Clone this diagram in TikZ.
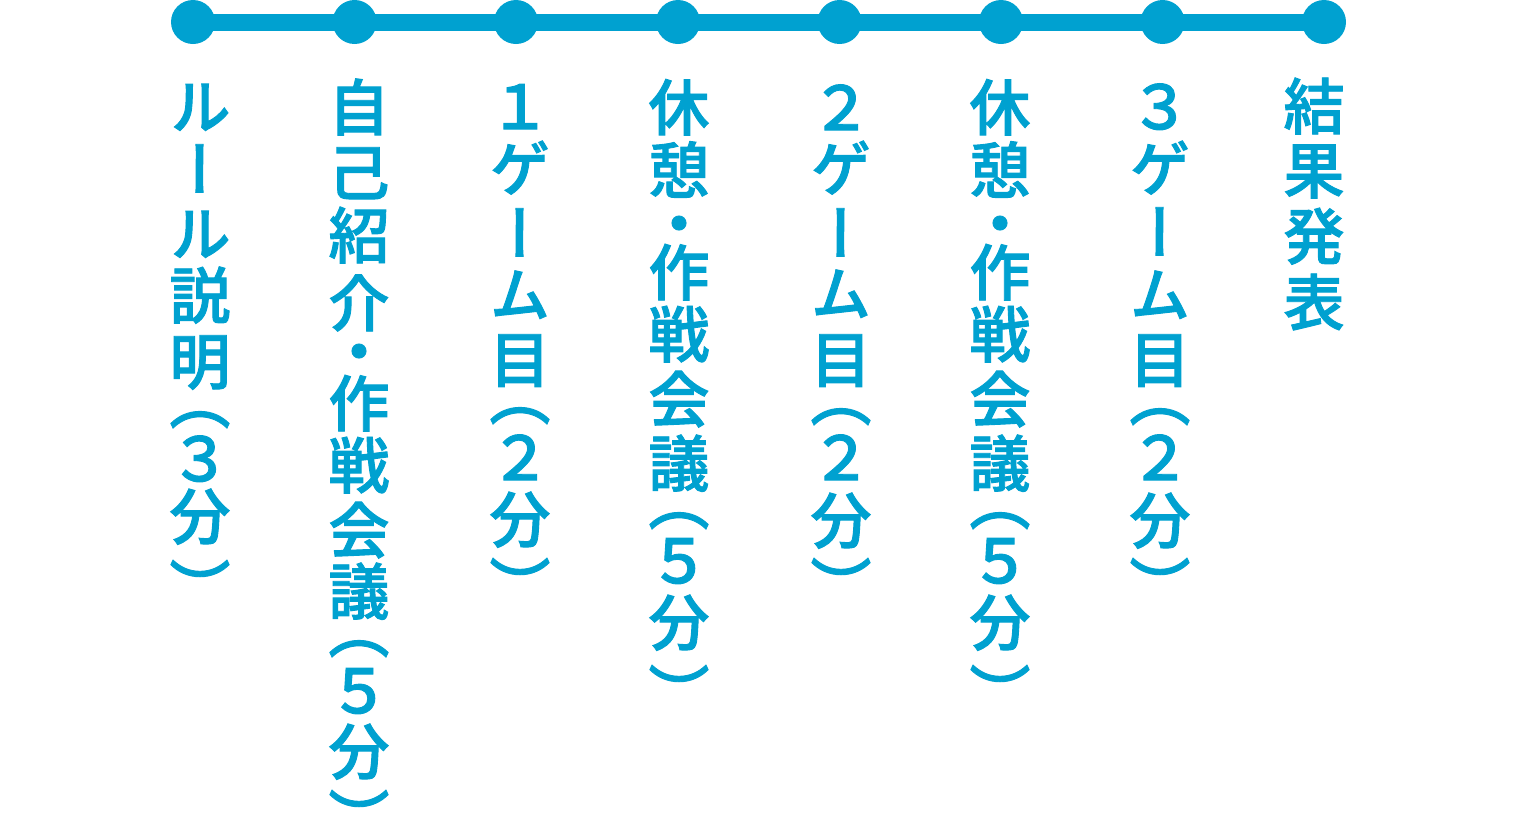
\documentclass[tikz,border=0pt]{standalone}
\usepackage{fontspec}
\XeTeXuseglyphmetrics=1
\newfontfamily\jp[RawFeature=+vert, UprightFont={* Medium}, FakeBold=1.5]{Noto Sans CJK JP}
\definecolor{tlblue}{RGB}{0,161,208}
\def\closep{︶}
\def\openp{︵}
\def\midd{・}
\newcommand\vglyph[1]{%
  \edef\tmpc{#1}%
  \ifx\tmpc\closep \raisebox{-43pt}[9pt][9pt]{#1}%
  \else\ifx\tmpc\openp \raisebox{-7.5pt}[9pt][9pt]{#1}%
  \else\ifx\tmpc\midd \raisebox{-23.2pt}[9pt][9pt]{#1}%
  \else \raisebox{-23.2pt}[18pt][18pt]{#1}\fi\fi\fi}
\tikzset{
  dot/.style={circle, fill=tlblue, draw=none, minimum size=44pt, inner sep=0pt},
  tline/.style={draw=tlblue, line width=17pt},
  ch/.style={text=tlblue, inner sep=0pt, anchor=center, font=\jp\fontsize{61}{61}\selectfont},
}
\begin{document}
\begin{tikzpicture}[x=1pt, y=-1pt]
\useasboundingbox (0,0) rectangle (1518,812);
% timeline dots
\foreach \xx [count=\i] in {193,354.6,516,678,839.6,1001,1162.6,1324}
  \node[dot] (d\i) at (\xx,22) {};
\draw[tline] (d1.center) -- (d8.center);
% column 1
\foreach \c/\yy [count=\i] in {ル/106, ー/169, ル/233, 説/295, 明/361, ︵/416, ３/458, 分/516, ︶/568}
  \node[ch] (a\i) at (200,\yy) {\vglyph{\c}};
% column 2
\foreach \c/\yy [count=\i] in {自/107, 己/172, 紹/235, 介/303, ・/351, 作/403, 戦/465, 会/530, 議/591, ︵/645, ５/690, 分/751, ︶/798}
  \node[ch] (b\i) at (359,\yy) {\vglyph{\c}};
% column 3
\foreach \c/\yy [count=\i] in {１/106, ゲ/168, ー/233, ム/294, 目/359, ︵/412, ２/457, 分/519, ︶/566}
  \node[ch] (c\i) at (520,\yy) {\vglyph{\c}};
% column 4
\foreach \c/\yy [count=\i] in {休/107, 憩/170, ・/223, 作/272, 戦/334, 会/399, 議/463, ︵/517, ５/560, 分/622, ︶/673}
  \node[ch] (f\i) at (679,\yy) {\vglyph{\c}};
% column 5
\foreach \c/\yy [count=\i] in {２/107, ゲ/168, ー/233, ム/293, 目/359, ︵/413, ２/457, 分/520, ︶/566}
  \node[ch] (g\i) at (841,\yy) {\vglyph{\c}};
% column 6
\foreach \c/\yy [count=\i] in {休/107, 憩/170, ・/223, 作/272, 戦/334, 会/399, 議/463, ︵/517, ５/560, 分/622, ︶/673}
  \node[ch] (h\i) at (1000,\yy) {\vglyph{\c}};
% column 7
\foreach \c/\yy [count=\i] in {３/106, ゲ/168, ー/232, ム/294, 目/359, ︵/413, ２/457, 分/520, ︶/566}
  \node[ch] (k\i) at (1160,\yy) {\vglyph{\c}};
% column 8
\foreach \c/\yy [count=\i] in {結/106, 果/170, 発/236, 表/302}
  \node[ch] (m\i) at (1314,\yy) {\vglyph{\c}};
\end{tikzpicture}
\end{document}
